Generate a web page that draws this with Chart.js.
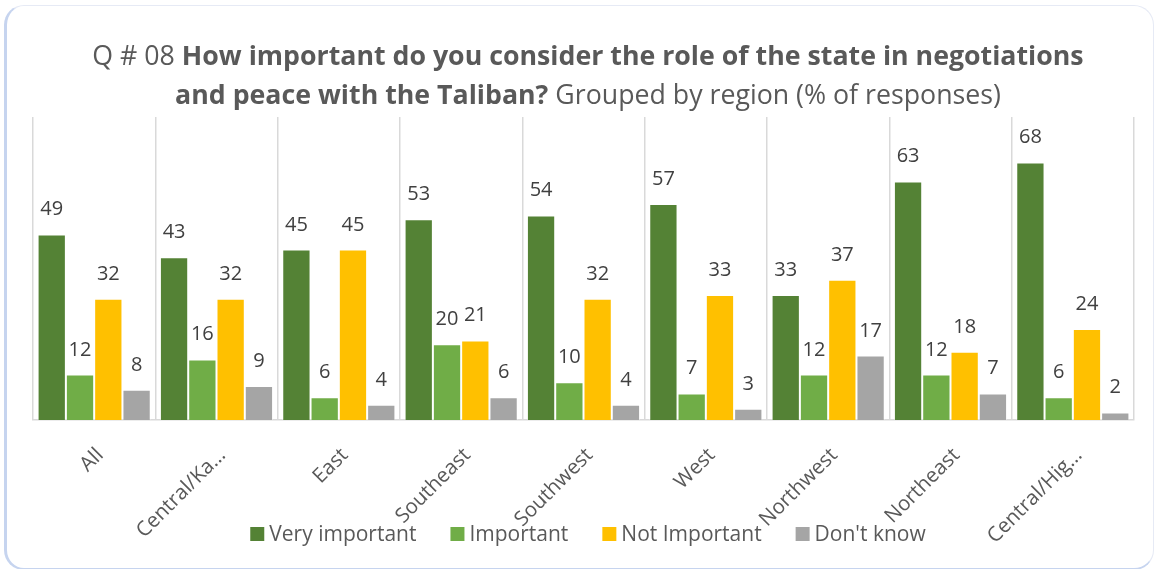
<!DOCTYPE html>
<html><head><meta charset="utf-8">
<script src="https://cdn.jsdelivr.net/npm/chart.js@4/dist/chart.umd.min.js"></script>
<style>
html,body{margin:0;padding:0;background:#fff;}
#wrap{position:relative;width:1156px;height:569px;overflow:hidden;}
#frame{position:absolute;left:4px;top:5px;width:1150px;height:565px;border:1px solid #e6eaf5;border-left:3px solid #c6d4ef;border-bottom:2px solid #c6d4ef;border-radius:20px;box-sizing:border-box;}
canvas{position:absolute;left:0;top:0;}
</style></head>
<body><div id="wrap"><div id="frame"></div><canvas id="c" width="1156" height="569"></canvas></div>
<script>
const categories = ["All","Central/Ka…","East","Southeast","Southwest","West","Northwest","Northeast","Central/Hig…"];
const veryImportant = [49,43,45,53,54,57,33,63,68];
const important = [12,16,6,20,10,7,12,12,6];
const notImportant = [32,32,45,21,32,33,37,18,24];
const dontKnow = [8,9,4,6,4,3,17,7,2];
const seriesNames = ["Very important","Important","Not Important","Don't know"];
const seriesColors = ["#548235","#70AD47","#FFC000","#A5A5A5"];
const titleLine1 = [["Q # 08 ", false],["How important do you consider the role of the state in negotiations", true]];
const titleLine2 = [["and peace with the Taliban?", true],[" Grouped by region (% of responses)", false]];

const FONT = "'Open Sans', 'Noto Sans', sans-serif";

const titlePlugin = {
  id:'mixedTitle',
  afterDraw(chart){
    const ctx = chart.ctx;
    const size = 27, sx = 0.99;
    const drawLine = (parts, y) => {
      ctx.save();
      let widths = parts.map(([t,b]) => { ctx.font = (b?'bold ':'') + size + 'px ' + FONT; return ctx.measureText(t).width; });
      const total = widths.reduce((a,b)=>a+b,0) * sx;
      let x = 588 - total/2;
      ctx.fillStyle = '#595959';
      ctx.textBaseline = 'alphabetic';
      parts.forEach(([t,b],i) => {
        ctx.save();
        ctx.font = (b?'bold ':'') + size + 'px ' + FONT;
        ctx.translate(x, y); ctx.scale(sx,1);
        ctx.fillText(t, 0, 0);
        ctx.restore();
        x += widths[i]*sx;
      });
      ctx.restore();
    };
    drawLine(titleLine1, 65);
    drawLine(titleLine2, 104);
  }
};

const labelPlugin = {
  id:'valueLabels',
  afterDatasetsDraw(chart){
    const ctx = chart.ctx;
    ctx.save();
    ctx.font = '20px ' + FONT;
    ctx.fillStyle = '#404040';
    ctx.textAlign = 'center';
    ctx.textBaseline = 'alphabetic';
    chart.data.datasets.forEach((ds, di) => {
      const meta = chart.getDatasetMeta(di);
      meta.data.forEach((el, i) => {
        ctx.fillText(String(ds.data[i]), el.x, el.y - 19);
      });
    });
    ctx.restore();
  }
};

const xLabelPlugin = {
  id:'xLabels',
  afterDraw(chart){
    const ctx = chart.ctx, sc = chart.scales.x;
    ctx.save();
    ctx.font = '20.5px ' + FONT;
    ctx.fillStyle = '#595959';
    ctx.textAlign = 'right';
    ctx.textBaseline = 'middle';
    chart.data.labels.forEach((lab, i) => {
      const x = sc.getPixelForValue(i);
      ctx.save();
      ctx.translate(x + 6, sc.top + 32);
      ctx.rotate(-Math.PI/4);
      ctx.fillText(lab, 0, 0);
      ctx.restore();
    });
    ctx.restore();
  }
};

const legendPlugin = {
  id:'bottomLegend',
  afterDraw(chart){
    const ctx = chart.ctx;
    ctx.save();
    ctx.font = '21px ' + FONT;
    ctx.textBaseline = 'alphabetic';
    const box = 14, gapBox = 5, gapItem = 34;
    const widths = seriesNames.map(n => box + gapBox + ctx.measureText(n).width);
    const total = widths.reduce((a,b)=>a+b,0) + gapItem*(seriesNames.length-1);
    let x = 588 - total/2;
    const y = 541;
    seriesNames.forEach((n,i) => {
      ctx.fillStyle = seriesColors[i];
      ctx.fillRect(x, y - 14, box, box);
      ctx.fillStyle = '#595959';
      ctx.fillText(n, x + box + gapBox, y);
      x += widths[i] + gapItem;
    });
    ctx.restore();
  }
};

const seriesData = [veryImportant, important, notImportant, dontKnow];

new Chart(document.getElementById('c'), {
  type:'bar',
  data:{
    labels: categories,
    datasets: seriesNames.map((n,i) => ({
      label:n, data: seriesData[i], backgroundColor: seriesColors[i],
      borderColor:'rgba(255,255,255,0.45)', borderWidth:1
    }))
  },
  options:{
    responsive:false, animation:false, devicePixelRatio:1,
    layout:{padding:{left:33,right:22,top:117,bottom:0}},
    datasets:{bar:{categoryPercentage:0.925, barPercentage:1}},
    plugins:{legend:{display:false}, title:{display:false}, tooltip:{enabled:false}},
    scales:{
      x:{
        grid:{display:true, offset:true, color:'#d9d9d9', lineWidth:1.5, drawTicks:false},
        border:{display:true, color:'#d9d9d9', width:1.5},
        ticks:{display:false, autoSkip:false},
        afterFit:(s)=>{ s.height = 149; }
      },
      y:{display:false, min:0, max:80}
    }
  },
  plugins:[labelPlugin, xLabelPlugin, titlePlugin, legendPlugin]
});
</script>
</body></html>
